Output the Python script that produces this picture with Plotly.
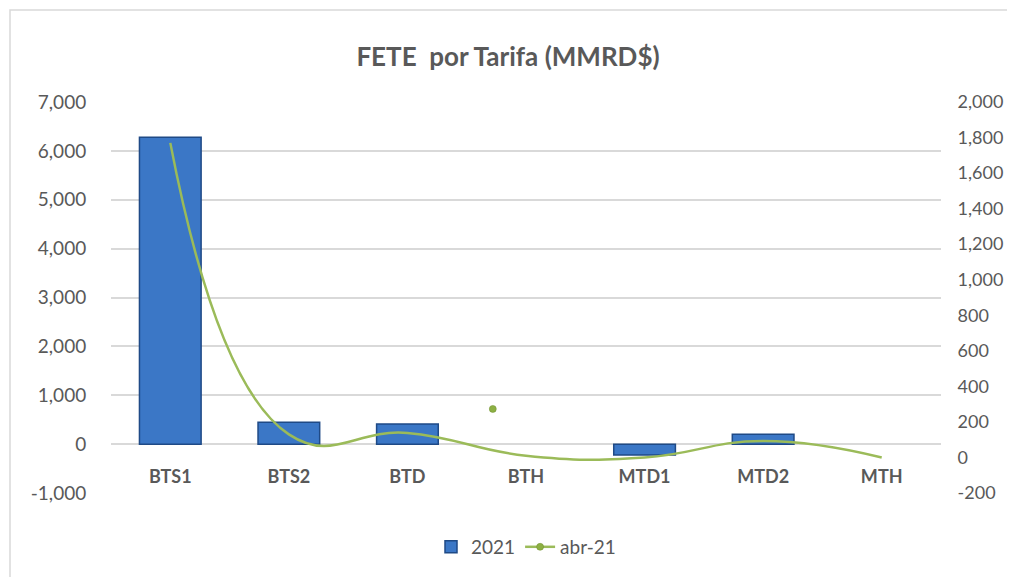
import plotly.graph_objects as go

categories = ["BTS1", "BTS2", "BTD", "BTH", "MTD1", "MTD2", "MTH"]
bar_2021 = [6280, 450, 410, None, -220, 200, None]
line_abr21 = [1770, 130, 138, 10, 0, 93, 0]
stray_x = [2.72]
stray_y = [273]

left_ticks = [-1000, 0, 1000, 2000, 3000, 4000, 5000, 6000, 7000]
right_ticks = list(range(-200, 2001, 200))

def fmt(v):
    return f"{v:,}"

xpos = list(range(len(categories)))
grey = "#595959"
font = "Lato, Open Sans, sans-serif"

fig = go.Figure()
fig.add_trace(go.Bar(
    x=xpos, y=bar_2021, name="2021", width=0.52,
    marker=dict(color="#3B77C6", line=dict(color="#1F4A86", width=1.5)),
))
fig.add_trace(go.Scatter(
    x=xpos, y=line_abr21, yaxis="y2", mode="lines", showlegend=False,
    line=dict(color="#9BBB59", width=2.5, shape="spline", smoothing=1.3),
))
fig.add_trace(go.Scatter(
    x=stray_x, y=stray_y, yaxis="y2", mode="lines+markers", name="abr-21",
    line=dict(color="#9BBB59", width=2.5),
    marker=dict(color="#8DB043", size=7, line=dict(color="#6E8F2E", width=0.5)),
))

fig.update_layout(
    width=1015, height=577,
    margin=dict(l=103, r=82, t=94, b=92),
    paper_bgcolor="white", plot_bgcolor="white",
    font=dict(family=font, color=grey, size=19),
    title=dict(text="<b>FETE  por Tarifa (MMRD$)</b>", x=(508 - 8) / 1015, xanchor="center",
               y=1 - 49 / 577, yanchor="middle",
               font=dict(size=26, color=grey, family=font)),
    bargap=0.48,
    showlegend=True,
    legend=dict(orientation="h", x=0.5, xanchor="center", y=-0.138, yanchor="middle",
                font=dict(size=19, color=grey, family=font), traceorder="normal"),
    xaxis=dict(
        tickvals=xpos, ticktext=[f"<b>{c}</b>" for c in categories],
        range=[-0.5, len(categories) - 0.5],
        anchor="free", position=(493 - 444) / 391,
        ticks="outside", ticklen=16, tickcolor="rgba(0,0,0,0)",
        showgrid=False, zeroline=False, showline=False,
        tickfont=dict(size=18, color=grey, family=font),
    ),
    yaxis=dict(
        range=[-1000, 7000], tickvals=left_ticks, ticktext=[fmt(v) for v in left_ticks],
        showgrid=True, gridcolor="#D9D9D9", gridwidth=1.5,
        zeroline=True, zerolinecolor="#D9D9D9", zerolinewidth=1.5,
        ticks="outside", ticklen=20, tickcolor="rgba(0,0,0,0)",
        tickfont=dict(size=19, color=grey, family=font),
    ),
    yaxis2=dict(
        range=[-200, 2000], tickvals=right_ticks, ticktext=[fmt(v) for v in right_ticks],
        overlaying="y", side="right", showgrid=False, zeroline=False,
        ticks="outside", ticklen=12, tickcolor="rgba(0,0,0,0)",
        tickfont=dict(size=18, color=grey, family=font),
    ),
    shapes=[dict(type="rect", xref="paper", yref="paper",
                 x0=(2 - 103) / 830, x1=1.2, y0=-0.5, y1=1 + (94 - 2) / 391,
                 line=dict(color="#D9D9D9", width=1.5), fillcolor="rgba(0,0,0,0)",
                 layer="below")],
)

fig.write_html("out.html")
